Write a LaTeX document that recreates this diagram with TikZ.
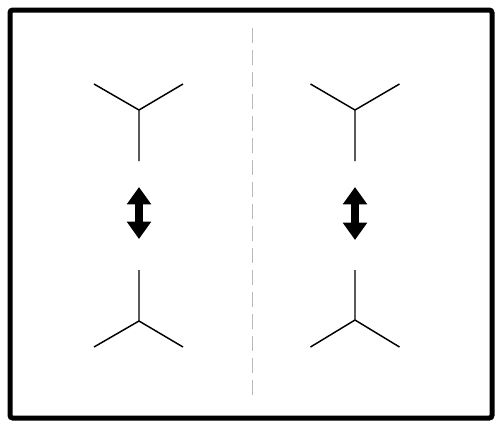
\documentclass[tikz,border=0pt]{standalone}
\usepackage{tikz}
\usetikzlibrary{arrows.meta}

\begin{document}
\begin{tikzpicture}[x=0.75pt,y=0.75pt,yscale=-1,xscale=1]
        \useasboundingbox (0,0) rectangle (501,426);
        %Frame [id:frame]
        \draw [line width=3.75pt, rounded corners=2pt]  (10,10) rectangle (492,418) ;
        %Dashed Line [id:divider]
        \coordinate (divtop) at (252.5,28);
        \coordinate (divbot) at (252.5,401);
        \draw [color={rgb, 255:red, 185; green, 185; blue, 185 }, line width=1.1pt, dash pattern=on 11.25pt off 5.25pt]  (divtop) -- (divbot) ;
        %Left upper Y [id:lefttop]
        \coordinate (ltc) at (139,110);
        \coordinate (ltl) at (94,84);
        \coordinate (ltr) at (183,84);
        \coordinate (lts) at (139,161);
        \draw [line width=1.1pt]  (ltl) -- (ltc) -- (ltr) (ltc) -- (lts) ;
        %Left lower Y [id:leftbottom]
        \coordinate (lbc) at (139,321);
        \coordinate (lbl) at (94,347);
        \coordinate (lbr) at (183,347);
        \coordinate (lbs) at (139,270);
        \draw [line width=1.1pt]  (lbl) -- (lbc) -- (lbr) (lbc) -- (lbs) ;
        %Left double arrow [id:leftarrow]
        \coordinate (lau) at (139,187);
        \coordinate (lad) at (139,239);
        \draw [line width=6pt, {Triangle[width=17.5pt,length=13pt]}-{Triangle[width=17.5pt,length=13pt]}]  (lau) -- (lad) ;
        %Right upper Y [id:righttop]
        \coordinate (rtc) at (355,110);
        \coordinate (rtl) at (310.5,84);
        \coordinate (rtr) at (399.5,84);
        \coordinate (rts) at (355,161);
        \draw [line width=1.1pt]  (rtl) -- (rtc) -- (rtr) (rtc) -- (rts) ;
        %Right lower Y [id:rightbottom]
        \coordinate (rbc) at (355,320);
        \coordinate (rbl) at (310.5,347);
        \coordinate (rbr) at (399.5,347);
        \coordinate (rbs) at (355,270);
        \draw [line width=1.1pt]  (rbl) -- (rbc) -- (rbr) (rbc) -- (rbs) ;
        %Right double arrow [id:rightarrow]
        \coordinate (rau) at (355,187);
        \coordinate (rad) at (355,240);
        \draw [line width=6pt, {Triangle[width=17.5pt,length=13pt]}-{Triangle[width=17.5pt,length=13pt]}]  (rau) -- (rad) ;
    \end{tikzpicture}
\end{document}
